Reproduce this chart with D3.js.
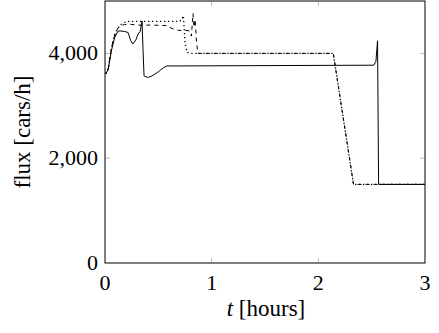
<!DOCTYPE html>
<html lang="en">
<head>
<meta charset="UTF-8">
<script src="https://d3js.org/d3.v7.min.js"></script>
<style>
  body { margin: 0; background: #fff; }
  text { font-family: "Liberation Serif", serif; fill: #000; }
</style>
</head>
<body>
<svg width="439" height="333"></svg>
<script>
// solid series
const tSolid = [0, 0.01, 0.03, 0.06, 0.09, 0.12, 0.14, 0.18, 0.216, 0.24, 0.26, 0.29, 0.31, 0.33, 0.347, 0.356, 0.366, 0.40, 0.44, 0.50, 0.55, 0.58, 2.52, 2.54, 2.555, 2.565, 3];
const fSolid = [3620, 3620, 3700, 4050, 4300, 4420, 4430, 4420, 4400, 4250, 4180, 4260, 4370, 4420, 4620, 4100, 3570, 3540, 3570, 3650, 3730, 3760, 3775, 3850, 4240, 1500, 1500];

// dashed series
const tDashed = [0, 0.01, 0.03, 0.06, 0.09, 0.12, 0.15, 0.18, 0.22, 0.3, 0.45, 0.58, 0.6, 0.66, 0.69, 0.75, 0.79, 0.81, 0.825, 0.835, 0.845, 0.855, 0.87, 0.9, 2.14, 2.33, 3];
const fDashed = [3620, 3620, 3700, 4100, 4350, 4480, 4530, 4550, 4560, 4540, 4540, 4530, 4500, 4450, 4440, 4440, 4430, 4330, 4760, 4500, 4650, 4300, 4000, 4000, 4000, 1500, 1500];

// dotted series
const tDotted = [0, 0.01, 0.03, 0.06, 0.09, 0.12, 0.15, 0.18, 0.22, 0.3, 0.5, 0.7, 0.72, 0.735, 0.75, 0.77, 0.8, 2.14, 2.33, 3];
const fDotted = [3620, 3620, 3700, 4100, 4350, 4480, 4550, 4590, 4610, 4610, 4610, 4610, 4650, 4720, 4200, 4020, 4000, 4000, 1500, 1500];

const xTicks = [0, 1, 2, 3];
const yTicks = [0, 2000, 4000];

// time where dashed and dotted curves start to coincide
const tMerge = 0.87;

const margin = { top: 1, right: 14, bottom: 70, left: 105 },
    width = 425 - margin.left,
    height = 263 - margin.top;

const svg = d3.select("svg")
    .append("g")
    .attr("transform", `translate(${margin.left},${margin.top})`);

const x = d3.scaleLinear().domain([0, 3]).range([0, width]);
const y = d3.scaleLinear().domain([0, 5000]).range([height, 0]);

// inner ticks (gray) on all four sides
const tickLen = 5;
xTicks.slice(1, -1).forEach(t => {
    svg.append("line").attr("x1", x(t)).attr("x2", x(t)).attr("y1", height).attr("y2", height - tickLen)
        .attr("stroke", "#bbb").attr("stroke-width", 1);
    svg.append("line").attr("x1", x(t)).attr("x2", x(t)).attr("y1", 0).attr("y2", tickLen)
        .attr("stroke", "#bbb").attr("stroke-width", 1);
});
yTicks.slice(1).forEach(v => {
    svg.append("line").attr("x1", 0).attr("x2", tickLen).attr("y1", y(v)).attr("y2", y(v))
        .attr("stroke", "#bbb").attr("stroke-width", 1);
    svg.append("line").attr("x1", width).attr("x2", width - tickLen).attr("y1", y(v)).attr("y2", y(v))
        .attr("stroke", "#bbb").attr("stroke-width", 1);
});

const line = d3.line().x(d => x(d[0])).y(d => y(d[1]));

// length along a polyline up to time tm
function lengthTo(pts, tm) {
    let L = 0;
    for (let i = 1; i < pts.length; i++) {
        const [t0, f0] = pts[i - 1], [t1, f1] = pts[i];
        if (t0 >= tm) break;
        const frac = t1 <= tm ? 1 : (tm - t0) / (t1 - t0);
        const dx = (x(t1) - x(t0)) * frac, dy = (y(f1) - y(f0)) * frac;
        L += Math.hypot(dx, dy);
    }
    return L;
}
const mod = (a, n) => ((a % n) + n) % n;

const series = [
    { t: tSolid, f: fSolid, dash: null, w: 1, period: 0, shift: 0 },
    { t: tDashed, f: fDashed, dash: "4,4", w: 1, period: 8, shift: 0 },
    { t: tDotted, f: fDotted, dash: "1.3,2.7", w: 1.3, period: 4, shift: 5.5 }
];

series.forEach(s => {
    const pts = s.t.map((t, i) => [t, s.f[i]]);
    const p = svg.append("path")
        .datum(pts)
        .attr("d", line)
        .attr("fill", "none")
        .attr("stroke", "#000")
        .attr("stroke-width", s.w)
        .attr("stroke-dasharray", s.dash);
    if (s.period) {
        // align patterns so the dots fall in the gaps of the dashes where they overlap
        const L = lengthTo(pts, tMerge);
        p.attr("stroke-dashoffset", mod(-(L + s.shift), s.period));
    }
});

// frame
svg.append("rect")
    .attr("x", 0).attr("y", 0)
    .attr("width", width).attr("height", height)
    .attr("fill", "none").attr("stroke", "#000").attr("stroke-width", 1);

// tick labels
svg.selectAll(".xlab")
    .data(xTicks)
    .enter().append("text")
    .attr("x", d => x(d))
    .attr("y", height + 27)
    .attr("text-anchor", "middle")
    .attr("font-size", 22)
    .text(d => d);

svg.selectAll(".ylab")
    .data(yTicks)
    .enter().append("text")
    .attr("x", -7)
    .attr("y", d => y(d) + 7)
    .attr("text-anchor", "end")
    .attr("font-size", 22)
    .text(d => d3.format(",")(d));

// axis labels
const xl = svg.append("text")
    .attr("x", width / 2 + 1)
    .attr("y", height + 53)
    .attr("text-anchor", "middle")
    .attr("font-size", 23);
xl.append("tspan").attr("font-style", "italic").text("t");
xl.append("tspan").text(" [hours]");

svg.append("text")
    .attr("transform", "rotate(-90)")
    .attr("x", -height / 2)
    .attr("y", -75)
    .attr("text-anchor", "middle")
    .attr("font-size", 23)
    .text("flux [cars/h]");
</script>
</body>
</html>
